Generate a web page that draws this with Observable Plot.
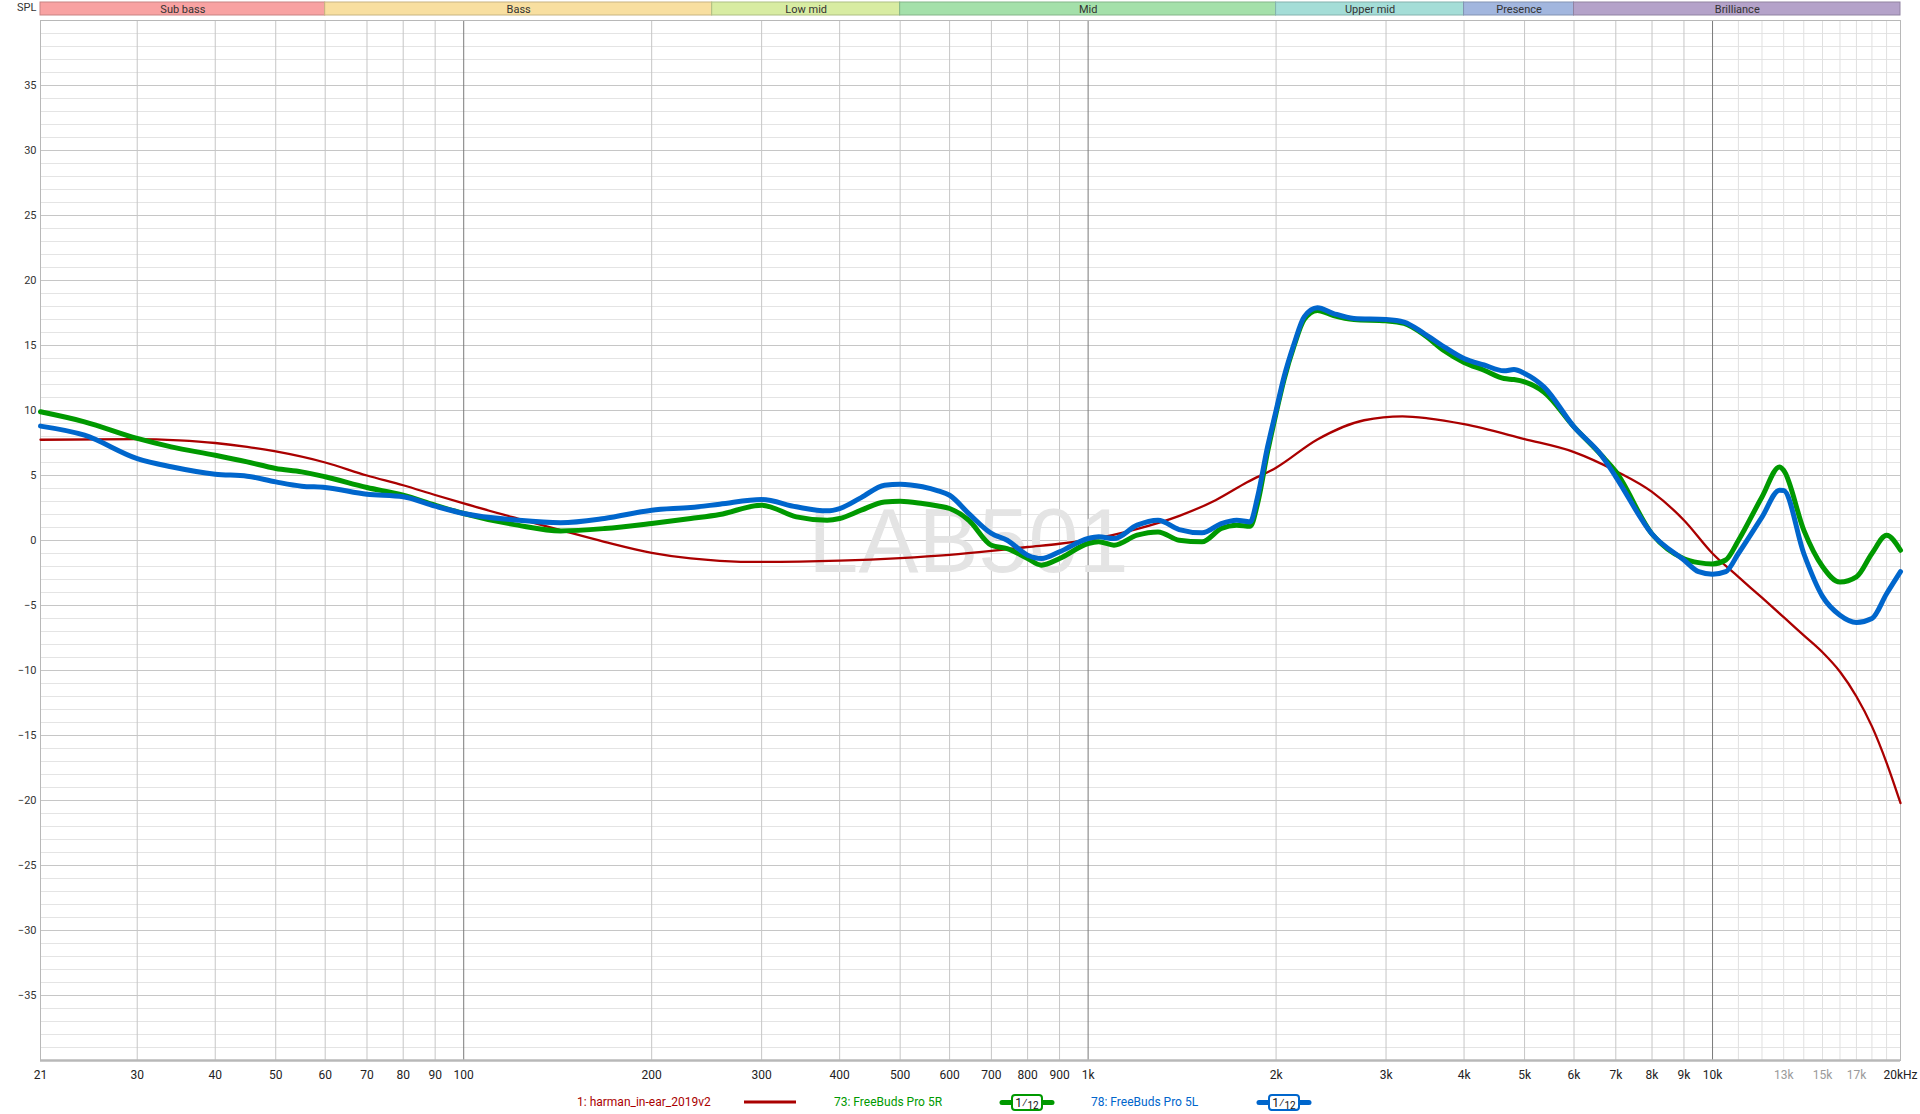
<!DOCTYPE html>
<html>
<head>
<meta charset="utf-8">
<script src="https://cdn.jsdelivr.net/npm/d3@7"></script>
<script src="https://cdn.jsdelivr.net/npm/@observablehq/plot@0.6"></script>
<style>
  html, body { margin: 0; padding: 0; background: #fff; }
  #wrap { position: relative; width: 1920px; height: 1114px; overflow: hidden; font-family: "Segoe UI", Roboto, "Noto Sans", sans-serif; }
  #bands { position: absolute; left: 0; top: 0; }
  #main { position: absolute; left: 0; top: 17px; }
  #spl { position: absolute; left: 17px; top: 1px; font-size: 11px; color: #333; }
  .leg { position: absolute; top: 1094px; font-size: 12px; line-height: 16px; white-space: nowrap; }
  .legsvg { position: absolute; top: 1093px; }
</style>
</head>
<body>
<div id="wrap">
  <div id="spl">SPL</div>
  <div id="bands"></div>
  <div id="main"></div>
  <div id="legend"></div>
</div>
<script>
// ---------- data ----------
const bandNames  = ["Sub bass", "Bass", "Low mid", "Mid", "Upper mid", "Presence", "Brilliance"];
const bandStart  = [21, 60, 250, 500, 2000, 4000, 6000];
const bandEnd    = [60, 250, 500, 2000, 4000, 6000, 20000];
const bandColors = ["#f8a2a2", "#f8dfa0", "#d8eca2", "#a4e0aa", "#a4ddd7", "#a2b6de", "#b4a2c9"];

const measFreqs = [21, 24.7, 30, 34, 40, 45, 50, 55, 60, 70, 80, 90, 100, 122, 143, 168, 200, 231, 257, 300,
  341, 382, 400, 433, 472, 500, 543, 575, 600, 644, 700, 742, 800, 842, 900, 1000, 1040, 1100, 1198, 1294,
  1399, 1522, 1634, 1729, 1818, 1867, 1938, 2000, 2060, 2138, 2218, 2329, 2472, 2665, 3000, 3206, 3457, 3717,
  4000, 4306, 4635, 4808, 5000, 5374, 6000, 6637, 7000, 8000, 9000, 9500, 10000, 10500, 11000, 12000, 12800,
  13000, 14000, 15000, 16000, 17000, 18000, 19000, 20000];

const greenDb = [9.9, 9.13, 7.85, 7.2, 6.56, 6.05, 5.54, 5.28, 4.9, 4.08, 3.49, 2.72, 2.08, 1.18, 0.74, 0.92, 1.31, 1.69, 2.0, 2.72,
  1.82, 1.56, 1.69, 2.33, 2.97, 3.02, 2.84, 2.65, 2.46, 1.56, -0.36, -0.62, -1.39, -1.9, -1.39, -0.23, -0.1, -0.36, 0.41, 0.66,
  0.02, -0.1, 0.92, 1.18, 1.1, 2.8, 6.8, 9.8, 12.4, 15.0, 17.0, 17.7, 17.3, 17.0, 16.9, 16.7, 15.8, 14.6,
  13.7, 13.1, 12.46, 12.38, 12.2, 11.4, 8.74, 6.56, 5.3, 0.5, -1.4, -1.7, -1.8, -1.5, 0.0, 3.35, 5.66,
  5.4, 0.8, -2.0, -3.2, -2.8, -1.0, 0.4, -0.75];

const blueDb = [8.8, 8.1, 6.3, 5.67, 5.1, 4.95, 4.51, 4.18, 4.08, 3.56, 3.36, 2.64, 2.08, 1.56, 1.36, 1.69, 2.33, 2.54, 2.79, 3.15,
  2.59, 2.28, 2.46, 3.3, 4.25, 4.33, 4.13, 3.82, 3.48, 2.07, 0.54, 0.02, -1.13, -1.39, -0.87, 0.15, 0.28, 0.15, 1.18, 1.56,
  0.84, 0.59, 1.3, 1.56, 1.43, 3.3, 7.2, 10.0, 12.6, 15.15, 17.2, 17.9, 17.46, 17.08, 17.0, 16.8, 15.9, 14.9,
  14.0, 13.5, 13.05, 13.15, 12.85, 11.8, 8.74, 6.56, 4.9, 0.5, -1.5, -2.4, -2.6, -2.4, -1.0, 1.8, 3.87,
  3.85, -1.0, -4.3, -5.75, -6.3, -6.0, -4.1, -2.4];

const targetFreqs = [21, 30, 35, 40, 45, 50, 60, 70, 80, 90, 100, 122, 143, 168, 200, 231, 257, 300, 400, 500,
  600, 700, 800, 900, 1000, 1200, 1400, 1600, 1800, 2000, 2329, 2767, 3187, 3500, 4000, 5000, 6000, 7000, 8000,
  9000, 10000, 11000, 12000, 13000, 14000, 15000, 16000, 17000, 18000, 19000, 20000];
const targetDb = [7.75, 7.8, 7.7, 7.5, 7.2, 6.85, 6.0, 5.0, 4.25, 3.5, 2.85, 1.69, 0.79, -0.1, -0.95, -1.38, -1.56, -1.65, -1.55, -1.35,
  -1.1, -0.8, -0.5, -0.25, 0.05, 0.9, 1.9, 3.1, 4.5, 5.6, 7.77, 9.25, 9.55, 9.4, 8.95, 7.8, 6.8, 5.35, 3.74,
  1.56, -1.0, -2.8, -4.4, -5.9, -7.3, -8.6, -10.1, -12.0, -14.3, -17.1, -20.2];

const xTickVals   = [21, 30, 40, 50, 60, 70, 80, 90, 100, 200, 300, 400, 500, 600, 700, 800, 900, 1000,
  2000, 3000, 4000, 5000, 6000, 7000, 8000, 9000, 10000, 20000];
const xTickLabels = ["21", "30", "40", "50", "60", "70", "80", "90", "100", "200", "300", "400", "500", "600", "700", "800", "900", "1k",
  "2k", "3k", "4k", "5k", "6k", "7k", "8k", "9k", "10k", "20kHz"];
const xGrayTickVals   = [13000, 15000, 17000];
const xGrayTickLabels = ["13k", "15k", "17k"];
const gridFreqs      = [30, 40, 50, 60, 70, 80, 90, 200, 300, 400, 500, 600, 700, 800, 900,
  2000, 3000, 4000, 5000, 6000, 7000, 8000, 9000];
const decadeFreqs    = [100, 1000, 10000];
const fineGridFreqs  = [11000, 12000, 13000, 14000, 15000, 16000, 17000, 18000, 19000];
const yTickVals      = [35, 30, 25, 20, 15, 10, 5, 0, -5, -10, -15, -20, -25, -30, -35];
const yMinorVals     = d3.range(-39, 40);

const legendNames  = ["1: harman_in-ear_2019v2", "73: FreeBuds Pro 5R", "78: FreeBuds Pro 5L"];
const legendColors = ["#aa0000", "#009900", "#0066cc"];

// ---------- build ----------
const X_DOMAIN = [21, 20000];
const bands = bandNames.map((n, i) => ({name: n, a: bandStart[i], b: bandEnd[i], c: bandColors[i]}));
const green = measFreqs.map((f, i) => ({f, v: greenDb[i]}));
const blue  = measFreqs.map((f, i) => ({f, v: blueDb[i]}));
const target = targetFreqs.map((f, i) => ({f, v: targetDb[i]}));
const xTicks = xTickVals.map((f, i) => ({f, label: xTickLabels[i]}));
const xGrayTicks = xGrayTickVals.map((f, i) => ({f, label: xGrayTickLabels[i]}));

const FONT = "Segoe UI, Roboto, Noto Sans, sans-serif";

const bandPlot = Plot.plot({
  width: 1920, height: 17,
  marginLeft: 40, marginRight: 20, marginTop: 2, marginBottom: 2,
  x: {type: "log", domain: X_DOMAIN, axis: null},
  y: {domain: [0, 1], axis: null},
  style: {fontFamily: FONT, background: "transparent"},
  marks: [
    Plot.rect(bands, {x1: "a", x2: "b", y1: 0, y2: 1, fill: "c",
      stroke: d => d3.color(d.c).darker(0.6).formatHex(), strokeWidth: 1}),
    Plot.text(bands, {x: d => Math.sqrt(d.a * d.b), y: 0.5, text: "name", fontSize: 11, fill: "#333"})
  ]
});
document.getElementById("bands").appendChild(bandPlot);

const mainPlot = Plot.plot({
  width: 1920, height: 1076,
  marginLeft: 40, marginRight: 20, marginTop: 3, marginBottom: 33,
  x: {type: "log", domain: X_DOMAIN, axis: null},
  y: {domain: [-40, 40], axis: null},
  style: {fontFamily: FONT, fontSize: "12px", color: "#222", background: "transparent"},
  marks: [
    Plot.ruleY(yMinorVals.filter(v => v % 5 !== 0), {stroke: "#e4e4e4", strokeWidth: 1}),
    Plot.ruleY(yMinorVals.filter(v => v % 5 === 0), {stroke: "#c6c6c6", strokeWidth: 1}),
    Plot.ruleX(fineGridFreqs, {stroke: "#e0e0e0", strokeWidth: 1}),
    Plot.ruleX(gridFreqs, {stroke: "#c6c6c6", strokeWidth: 1}),
    Plot.ruleX(decadeFreqs, {stroke: "#7a7a7a", strokeWidth: 1}),
    Plot.frame({stroke: "#b8b8b8"}),
    Plot.ruleY([-40], {stroke: "#b8b8b8", strokeWidth: 2.5}),
    Plot.text(["LAB501"], {frameAnchor: "middle", dx: -2, dy: 3, fontSize: 90, fill: "#e4e4e4",
      fontFamily: "Liberation Sans, Arial, sans-serif"}),
    Plot.line(target, {x: "f", y: "v", stroke: "#aa0000", strokeWidth: 2.3, curve: "monotone-x"}),
    Plot.line(green, {x: "f", y: "v", stroke: "#009900", strokeWidth: 5, curve: "monotone-x"}),
    Plot.line(blue, {x: "f", y: "v", stroke: "#0066cc", strokeWidth: 5, curve: "monotone-x"}),
    Plot.axisY({ticks: yTickVals, tickSize: 0, tickPadding: 4, label: null, fontSize: 11, fill: "#333"}),
    Plot.text(xTicks, {x: "f", text: "label", frameAnchor: "bottom", dy: 18, fontSize: 12, fill: "#222"}),
    Plot.text(xGrayTicks, {x: "f", text: "label", frameAnchor: "bottom", dy: 18, fontSize: 12, fill: "#9a9a9a"})
  ]
});
document.getElementById("main").appendChild(mainPlot);

// ---------- legend ----------
const legend = document.getElementById("legend");
const legTextLeft = [577, 834, 1091];
legendNames.forEach((n, i) => {
  const s = document.createElement("div");
  s.className = "leg";
  s.style.left = legTextLeft[i] + "px";
  s.style.color = legendColors[i];
  s.textContent = n;
  legend.appendChild(s);
});
const svgNS = "http://www.w3.org/2000/svg";
function mk(tag, attrs, parent) {
  const e = document.createElementNS(svgNS, tag);
  for (const k in attrs) e.setAttribute(k, attrs[k]);
  if (parent) parent.appendChild(e);
  return e;
}
const s0 = mk("svg", {width: 60, height: 20, class: "legsvg"});
s0.style.left = "740px";
mk("line", {x1: 4, x2: 56, y1: 9, y2: 9, stroke: legendColors[0], "stroke-width": 3}, s0);
legend.appendChild(s0);
[[997, legendColors[1]], [1254, legendColors[2]]].forEach(([left, c]) => {
  const s = mk("svg", {width: 60, height: 20, class: "legsvg"});
  s.style.left = left + "px";
  mk("line", {x1: 5, x2: 55, y1: 9.5, y2: 9.5, stroke: c, "stroke-width": 5, "stroke-linecap": "round"}, s);
  mk("rect", {x: 15, y: 2, width: 30, height: 15, rx: 3, fill: "#fff", stroke: c, "stroke-width": 2}, s);
  const t = mk("text", {x: 30, y: 14, "text-anchor": "middle", "font-size": 12, fill: "#111",
    "font-family": FONT}, s);
  const a = mk("tspan", {}, t); a.textContent = "1";
  const b = mk("tspan", {"font-size": 12}, t); b.textContent = "\u2044";
  const d = mk("tspan", {"font-size": 10, dy: 2}, t); d.textContent = "12";
  legend.appendChild(s);
});
</script>
</body>
</html>
